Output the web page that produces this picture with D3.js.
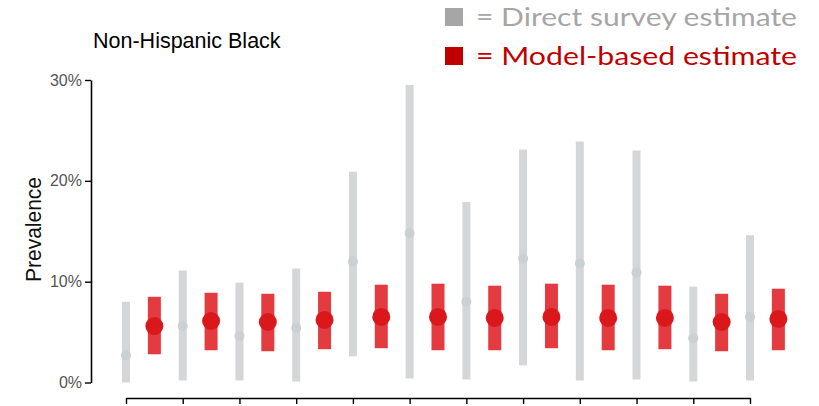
<!DOCTYPE html>
<html>
<head>
<meta charset="utf-8">
<script src="https://cdn.jsdelivr.net/npm/d3@7"></script>
<style>
  html, body { margin: 0; padding: 0; background: #ffffff; }
  svg { display: block; }
</style>
</head>
<body>
<svg id="chart" width="819" height="406"></svg>
<script>
// ---- data ----
const categories = ["G1","G2","G3","G4","G5","G6","G7","G8","G9","G10","G11","G12"];
// Direct survey estimate (%)
const directEst   = [2.7, 5.6, 4.6, 5.4, 12.0, 14.8, 8.0, 12.3, 11.8, 10.9, 4.4, 6.5];
const directLow   = [0.0, 0.2, 0.2, 0.1, 2.6, 0.4, 0.3, 1.7, 0.2, 0.3, 0.1, 0.2];
const directHigh  = [8.0, 11.1, 9.9, 11.3, 20.9, 29.5, 17.9, 23.1, 23.9, 23.0, 9.5, 14.6];
// Model-based estimate (%)
const modelEst    = [5.6, 6.1, 6.0, 6.2, 6.5, 6.5, 6.4, 6.5, 6.4, 6.4, 6.0, 6.3];
const modelLow    = [2.8, 3.2, 3.1, 3.3, 3.4, 3.2, 3.2, 3.4, 3.2, 3.3, 3.1, 3.2];
const modelHigh   = [8.5, 8.9, 8.8, 9.0, 9.7, 9.8, 9.6, 9.8, 9.7, 9.6, 8.8, 9.3];
const yTicks = [0, 10, 20, 30];

const svg = d3.select("#chart");

const y = d3.scaleLinear().domain([0, 30]).range([382.5, 80]);
const x = d3.scalePoint().domain(categories).range([126, 750]);
const half = x.step() / 2;

// y axis
const yAxis = svg.append("g")
  .attr("transform", "translate(91,0)")
  .call(d3.axisLeft(y).tickValues(yTicks).tickFormat(d => d + "%").tickSize(6).tickSizeOuter(0).tickPadding(3));
yAxis.select(".domain").attr("stroke", "#000").attr("stroke-width", 1.6);
yAxis.selectAll(".tick line").attr("stroke", "#000").attr("stroke-width", 1.4);
yAxis.selectAll(".tick text")
  .attr("font-family", "Liberation Sans, Arial, sans-serif")
  .attr("font-size", 16)
  .attr("fill", "#555");

// x axis
const xAxis = svg.append("g")
  .attr("transform", "translate(0,398)")
  .call(d3.axisBottom(x).tickFormat("").tickSize(6).tickSizeOuter(0));
xAxis.select(".domain").attr("stroke", "#000").attr("stroke-width", 1.6);
xAxis.selectAll(".tick line").attr("stroke", "#000").attr("stroke-width", 1.4);

// direct survey bars (gray)
const g = svg.append("g");
categories.forEach((c, i) => {
  const cx = x(c);
  g.append("rect")
    .attr("x", cx - 4).attr("width", 8)
    .attr("y", y(directHigh[i]))
    .attr("height", y(directLow[i]) - y(directHigh[i]))
    .attr("fill", "#d4d6d8");
  g.append("circle")
    .attr("cx", cx).attr("cy", y(directEst[i])).attr("r", 5)
    .attr("fill", "#cbd0d3");
});

// model-based bars (red)
categories.forEach((c, i) => {
  const cx = x(c) + half;
  g.append("rect")
    .attr("x", cx - 6.5).attr("width", 13)
    .attr("y", y(modelHigh[i]))
    .attr("height", y(modelLow[i]) - y(modelHigh[i]))
    .attr("fill", "#e43b41");
  g.append("circle")
    .attr("cx", cx).attr("cy", y(modelEst[i])).attr("r", 9)
    .attr("fill", "#da181c");
});

// title
svg.append("text")
  .attr("x", 93).attr("y", 48)
  .attr("font-family", "Liberation Sans, Arial, sans-serif")
  .attr("font-size", 21.5)
  .attr("fill", "#000")
  .text("Non-Hispanic Black");

// y label
svg.append("text")
  .attr("transform", "translate(41,229.5) rotate(-90)")
  .attr("text-anchor", "middle")
  .attr("font-family", "Liberation Sans, Arial, sans-serif")
  .attr("font-size", 22)
  .attr("textLength", 105)
  .attr("lengthAdjust", "spacingAndGlyphs")
  .attr("fill", "#111")
  .text("Prevalence");

// legend
const legend = [
  {label: "= Direct survey estimate", color: "#a6a6a6", y: 26},
  {label: "= Model-based estimate", color: "#c00000", y: 65}
];
legend.forEach(l => {
  svg.append("rect")
    .attr("x", 445).attr("y", l.y - 18).attr("width", 18).attr("height", 18)
    .attr("fill", l.color);
  svg.append("text")
    .attr("x", 476).attr("y", l.y)
    .attr("font-family", "Lato, Open Sans, sans-serif")
    .attr("font-size", 25)
    .attr("textLength", 321)
    .attr("lengthAdjust", "spacingAndGlyphs")
    .attr("fill", l.color)
    .text(l.label);
});
</script>
</body>
</html>
